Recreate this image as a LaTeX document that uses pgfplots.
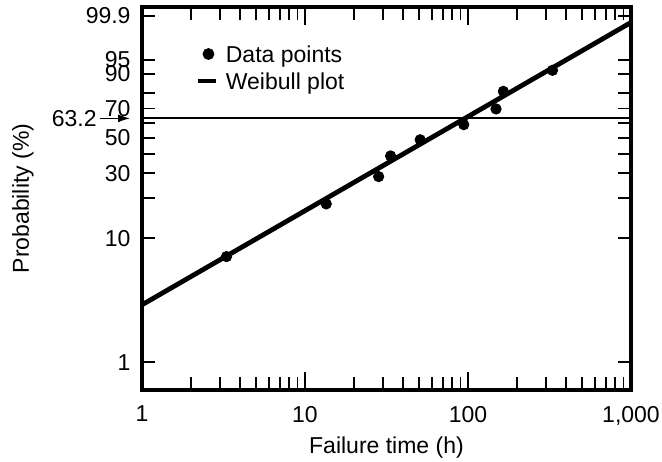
\documentclass[border=0pt]{standalone}
\usepackage{fontspec}
\setmainfont{Liberation Sans}
\usepackage{pgfplots}
\pgfplotsset{compat=1.18}
\usetikzlibrary{arrows.meta}
\begin{document}
\begin{tikzpicture}[font=\fontsize{11.5}{13.8}\selectfont]
\useasboundingbox (-71pt,-35.5pt) rectangle (260pt,195pt);
\begin{axis}[
  at={(0pt,0pt)}, anchor=south west,
  scale only axis, width=244.5pt, height=191.5pt,
  xmode=log, xmin=1, xmax=1000,
  y coord trafo/.code={\pgfmathparse{ln(-ln(1-#1/100))}},
  ymin=0.6018, ymax=99.97,
  xtick={1,10,100,1000}, xticklabels={1,10,100,{1,000}},
  minor xtick={2,3,4,5,6,7,8,9,20,30,40,50,60,70,80,90,200,300,400,500,600,700,800,900},
  ytick={1,10,30,50,70,90,95,99.9},
  yticklabels={1,10,30,50,70,90,95,99.9},
  minor ytick={1,10,20,30,40,50,60,70,80,90,95,99.9},
  major y tick style={draw=none},
  major tick length=9pt, minor tick length=6.3pt,
  every tick/.style={black, line width=0.9pt},
  axis line style={line width=1.6pt},
  tick align=inside,
  xticklabel style={yshift=-4.5pt},
  yticklabel style={xshift=-2.2pt},
  /pgf/number format/assume math mode=true,
  xlabel={Failure time (h)},
  ylabel={Probability (\%)},
  xlabel style={at={(axis description cs:0.5,-0.1645)}, anchor=base},
  ylabel style={at={(axis description cs:-0.2311,0.5)}, anchor=base, rotate=0},
  legend style={at={(axis description cs:0.1106,0.9086)}, anchor=north west,
    draw=none, fill=none, inner sep=0pt, outer sep=0pt, row sep=1.5pt, column sep=3.5pt,
    nodes={inner sep=0pt, text height=10pt, text depth=2pt}, cells={anchor=west}},
]
\addplot[line width=1pt, forget plot] coordinates {(1,63.2121) (1000,63.2121)};
\addplot[only marks, mark=*, mark size=2.6pt, black,
  legend image code/.code={\path[draw=none,fill=none] (0pt,0pt) -- (9pt,0pt); \fill[black] (5pt,0pt) circle (2.75pt);}]
  coordinates {(3.30,7.2) (13.5,18.2) (28.3,28.5) (33.5,39) (50.9,48.8) (94.2,58.9) (148.6,69.7) (164.8,81.0) (330,91.5)};
\addlegendentry{Data points}
\addplot[black, line width=2.4pt,
  legend image code/.code={\draw[line width=2.4pt] (0pt,0pt) -- (9pt,0pt);}]
  coordinates {(1,2.975) (1000,99.764)};
\addlegendentry{Weibull plot}
\coordinate (L) at (axis cs:1,63.2121);
\end{axis}
\draw[line width=0.6pt, -{Latex[length=6pt,width=4pt]}] ([xshift=-21pt]L) -- ([xshift=-6pt]L);
\node[anchor=east, inner sep=0pt] at ([xshift=-22.5pt]L) {63.2};
\end{tikzpicture}
\end{document}
